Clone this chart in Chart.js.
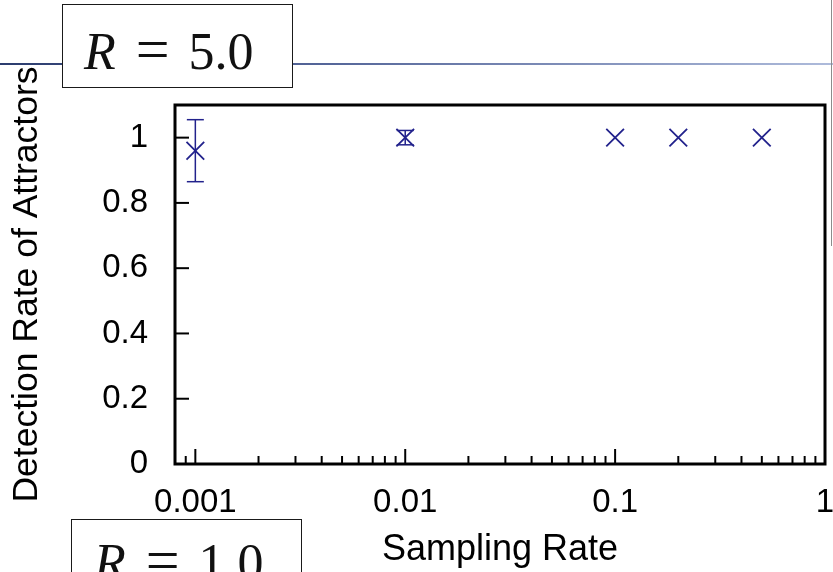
<!DOCTYPE html>
<html>
<head>
<meta charset="utf-8">
<script src="https://cdn.jsdelivr.net/npm/chart.js@4.4.0/dist/chart.umd.min.js"></script>
<style>
  html, body { margin: 0; padding: 0; background: #fff; overflow: hidden; }
  #wrap { position: relative; width: 833px; height: 572px; overflow: hidden; }
  #chart { position: absolute; left: 0; top: 0; }
  .rule { position: absolute; left: 0; top: 63px; width: 833px; height: 2px;
          background: linear-gradient(to right, #2b3c6e, #56679a 40%, #aebbdb); }
  .vrule { position: absolute; left: 831px; top: 0; width: 1px; height: 246px; background: #8c8c8c; }
  .rbox { position: absolute; width: 229px; height: 82px; border: 1.5px solid #1a1a1a; background: #fff; }
  .rtext { position: absolute; font-family: "Liberation Serif", serif; font-size: 52px;
           line-height: 52px; color: #111; white-space: nowrap; }
  .rtext i { margin-right: 20px; }
  .rtext .eq { font-size: 60px; margin-right: 19px; }
</style>
</head>
<body>
<div id="wrap">
  <canvas id="chart" width="833" height="572"></canvas>
  <div class="rule"></div>
  <div class="vrule"></div>
  <div class="rbox" style="left:62px; top:4px;"></div>
  <div class="rtext" style="left:84px; top:23px;"><i>R</i><span class="eq">=</span><span>5.0</span></div>
  <div class="rbox" style="left:71px; top:519px;"></div>
  <div class="rtext" style="left:94px; top:534px;"><i>R</i><span class="eq">=</span><span>1.0</span></div>
</div>
<script>
// detection rate vs. sampling rate, R = 5.0
const sampleRates = [0.001, 0.01, 0.1, 0.2, 0.5];
const detectionRates = [0.96, 1.0, 1.0, 1.0, 1.0];
const detectionErrors = [0.095, 0.022, 0, 0, 0];

const xTickValues = [0.001, 0.01, 0.1, 1];
const yTickValues = [0, 0.2, 0.4, 0.6, 0.8, 1];

const markColor = '#22228c';
const fontFamily = '"Liberation Sans", Arial, Helvetica, sans-serif';

Chart.defaults.font.family = fontFamily;
Chart.defaults.color = '#000';

// gnuplot style box: inward ticks, minor log ticks, error bars, heavy border
const gnuplotFrame = {
  id: 'gnuplotFrame',
  beforeDatasetsDraw(chart) {
    const { ctx, chartArea: a, scales: { x, y } } = chart;
    const seg = (x1, y1, x2, y2) => {
      ctx.beginPath();
      ctx.moveTo(x1, y1);
      ctx.lineTo(x2, y2);
      ctx.stroke();
    };
    ctx.save();
    ctx.strokeStyle = '#000';
    ctx.lineWidth = 2;

    yTickValues.forEach(v => {
      const py = y.getPixelForValue(v);
      seg(a.left, py, a.left + 14, py);
    });

    xTickValues.forEach(v => {
      const px = x.getPixelForValue(v);
      seg(px, a.bottom, px, a.bottom - 15);
    });

    [0.0001, 0.001, 0.01, 0.1].forEach(decade => {
      for (let m = 2; m <= 9; m++) {
        const v = m * decade;
        if (v <= x.min || v >= x.max) continue;
        const px = x.getPixelForValue(v);
        seg(px, a.bottom, px, a.bottom - 8);
      }
    });

    // error bars
    ctx.strokeStyle = markColor;
    ctx.lineWidth = 1.5;
    sampleRates.forEach((sr, i) => {
      const err = detectionErrors[i];
      if (!err) return;
      const px = x.getPixelForValue(sr);
      const top = y.getPixelForValue(detectionRates[i] + err);
      const bot = y.getPixelForValue(detectionRates[i] - err);
      seg(px, top, px, bot);
      seg(px - 8.5, top, px + 8.5, top);
      seg(px - 8.5, bot, px + 8.5, bot);
    });

    ctx.strokeStyle = '#000';
    ctx.lineWidth = 3;
    ctx.strokeRect(a.left, a.top, a.right - a.left, a.bottom - a.top);
    ctx.restore();
  }
};

new Chart(document.getElementById('chart'), {
  type: 'scatter',
  data: {
    datasets: [{
      label: 'R = 5.0',
      data: sampleRates.map((sr, i) => ({ x: sr, y: detectionRates[i] })),
      showLine: false,
      pointStyle: 'crossRot',
      pointRadius: 12.5,
      borderWidth: 1.8,
      borderColor: markColor,
      backgroundColor: markColor
    }]
  },
  options: {
    responsive: false,
    animation: false,
    events: [],
    layout: { autoPadding: false, padding: { top: 105, right: 8, left: 0, bottom: 0 } },
    plugins: {
      legend: { display: false },
      tooltip: { enabled: false }
    },
    scales: {
      x: {
        type: 'logarithmic',
        min: 0.0008,
        max: 1,
        grid: { display: false, drawTicks: false },
        border: { display: false },
        afterBuildTicks: s => { s.ticks = xTickValues.map(v => ({ value: v })); },
        afterFit: s => { s.height = 108; s.paddingLeft = 0; s.paddingRight = 0; },
        ticks: {
          autoSkip: false,
          maxRotation: 0,
          padding: 19,
          font: { size: 33 },
          callback: v => String(v)
        },
        title: {
          display: true,
          text: 'Sampling Rate',
          font: { size: 36 },
          padding: { top: 0, bottom: 0 }
        }
      },
      y: {
        min: 0,
        max: 1.1,
        grid: { display: false, drawTicks: false },
        border: { display: false },
        afterBuildTicks: s => { s.ticks = yTickValues.map(v => ({ value: v })); },
        afterFit: s => { s.width = 175; s.paddingTop = 0; s.paddingBottom = 0; },
        ticks: {
          padding: 27,
          font: { size: 33 },
          callback: v => String(+v.toFixed(1))
        },
        title: {
          display: true,
          text: 'Detection Rate of Attractors',
          font: { size: 35.5 },
          padding: { top: 6, bottom: 0 }
        }
      }
    }
  },
  plugins: [gnuplotFrame]
});
</script>
</body>
</html>
